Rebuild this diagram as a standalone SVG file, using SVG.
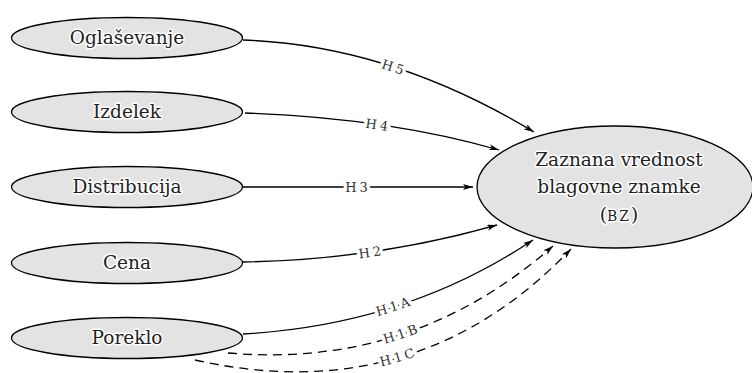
<svg xmlns="http://www.w3.org/2000/svg" width="752" height="373" viewBox="0 0 752 373">
  <style>
    .node ellipse { fill: #e3e3e3; stroke: #000; stroke-width: 1.3; }
    .node text { font-family: "DejaVu Serif", "Liberation Serif", serif; font-size: 18.5px; fill: #222; text-anchor: middle; stroke: #fff; stroke-width: 3; paint-order: stroke; stroke-linejoin: round; }
    .edge { fill: none; stroke: #000; stroke-width: 1.3; marker-end: url(#arrow); }
    .dashed { stroke-dasharray: 9 6; }
    .lbl { font-family: "DejaVu Serif", "Liberation Serif", serif; font-size: 13px; fill: #333; stroke: #fff; stroke-width: 7; paint-order: stroke; stroke-linejoin: round; letter-spacing: 3px; }
  </style>
  <defs>
    <marker id="arrow" viewBox="0 0 10 6" refX="10" refY="3" markerWidth="10" markerHeight="6" markerUnits="userSpaceOnUse" orient="auto">
      <path d="M0,0 L10,3 L0,6 L2.5,3 Z" fill="#000"/>
    </marker>
    <path id="p5" d="M243,40 Q390,45 534,132"/>
    <path id="p4" d="M245,113 Q388,118 499,150"/>
    <path id="p3" d="M243,187 L473,187"/>
    <path id="p2" d="M243,262 Q374,260 497,225"/>
    <path id="p1a" d="M243,334 Q406,325 533,240"/>
    <path id="p1b" d="M228,353 Q413,369 553,246"/>
    <path id="p1c" d="M195,360 Q417,410 571,249"/>
  </defs>

  <!-- connectors -->
  <g id="connectors">
    <use href="#p5" class="edge"/>
    <use href="#p4" class="edge"/>
    <use href="#p3" class="edge"/>
    <use href="#p2" class="edge"/>
    <use href="#p1a" class="edge"/>
    <use href="#p1b" class="edge dashed"/>
    <use href="#p1c" class="edge dashed"/>
    <text class="lbl" dy="5"><textPath href="#p5" startOffset="50%" text-anchor="middle">H5</textPath></text>
    <text class="lbl" dy="5"><textPath href="#p4" startOffset="52%" text-anchor="middle">H4</textPath></text>
    <text class="lbl" dy="5"><textPath href="#p3" startOffset="50%" text-anchor="middle">H3</textPath></text>
    <text class="lbl" dy="5"><textPath href="#p2" startOffset="50%" text-anchor="middle">H2</textPath></text>
    <text class="lbl" dy="4"><textPath href="#p1a" startOffset="50%" text-anchor="middle">H1A</textPath></text>
    <text class="lbl" dy="4"><textPath href="#p1b" startOffset="50%" text-anchor="middle">H1B</textPath></text>
    <text class="lbl" dy="4"><textPath href="#p1c" startOffset="50%" text-anchor="middle">H1C</textPath></text>
  </g>

  <!-- source constructs -->
  <g id="oglasevanje" class="node">
    <ellipse cx="127" cy="38" rx="115.5" ry="20.5"/>
    <text x="127" y="44">Oglaševanje</text>
  </g>
  <g id="izdelek" class="node">
    <ellipse cx="127" cy="112" rx="115.5" ry="20.5"/>
    <text x="127" y="118">Izdelek</text>
  </g>
  <g id="distribucija" class="node">
    <ellipse cx="127" cy="187" rx="115.5" ry="20.5"/>
    <text x="127" y="193">Distribucija</text>
  </g>
  <g id="cena" class="node">
    <ellipse cx="127" cy="263" rx="115.5" ry="20.5"/>
    <text x="127" y="269">Cena</text>
  </g>
  <g id="poreklo" class="node">
    <ellipse cx="127" cy="338" rx="115.5" ry="20.5"/>
    <text x="127" y="344">Poreklo</text>
  </g>

  <!-- target construct -->
  <g id="bz" class="node">
    <ellipse cx="615" cy="187" rx="138" ry="61"/>
    <text x="619" y="166" font-size="19">Zaznana vrednost</text>
    <text x="619" y="193" font-size="19">blagovne znamke</text>
    <text x="619" y="221" font-size="19">(<tspan font-size="14" letter-spacing="2">BZ</tspan>)</text>
  </g>
</svg>
